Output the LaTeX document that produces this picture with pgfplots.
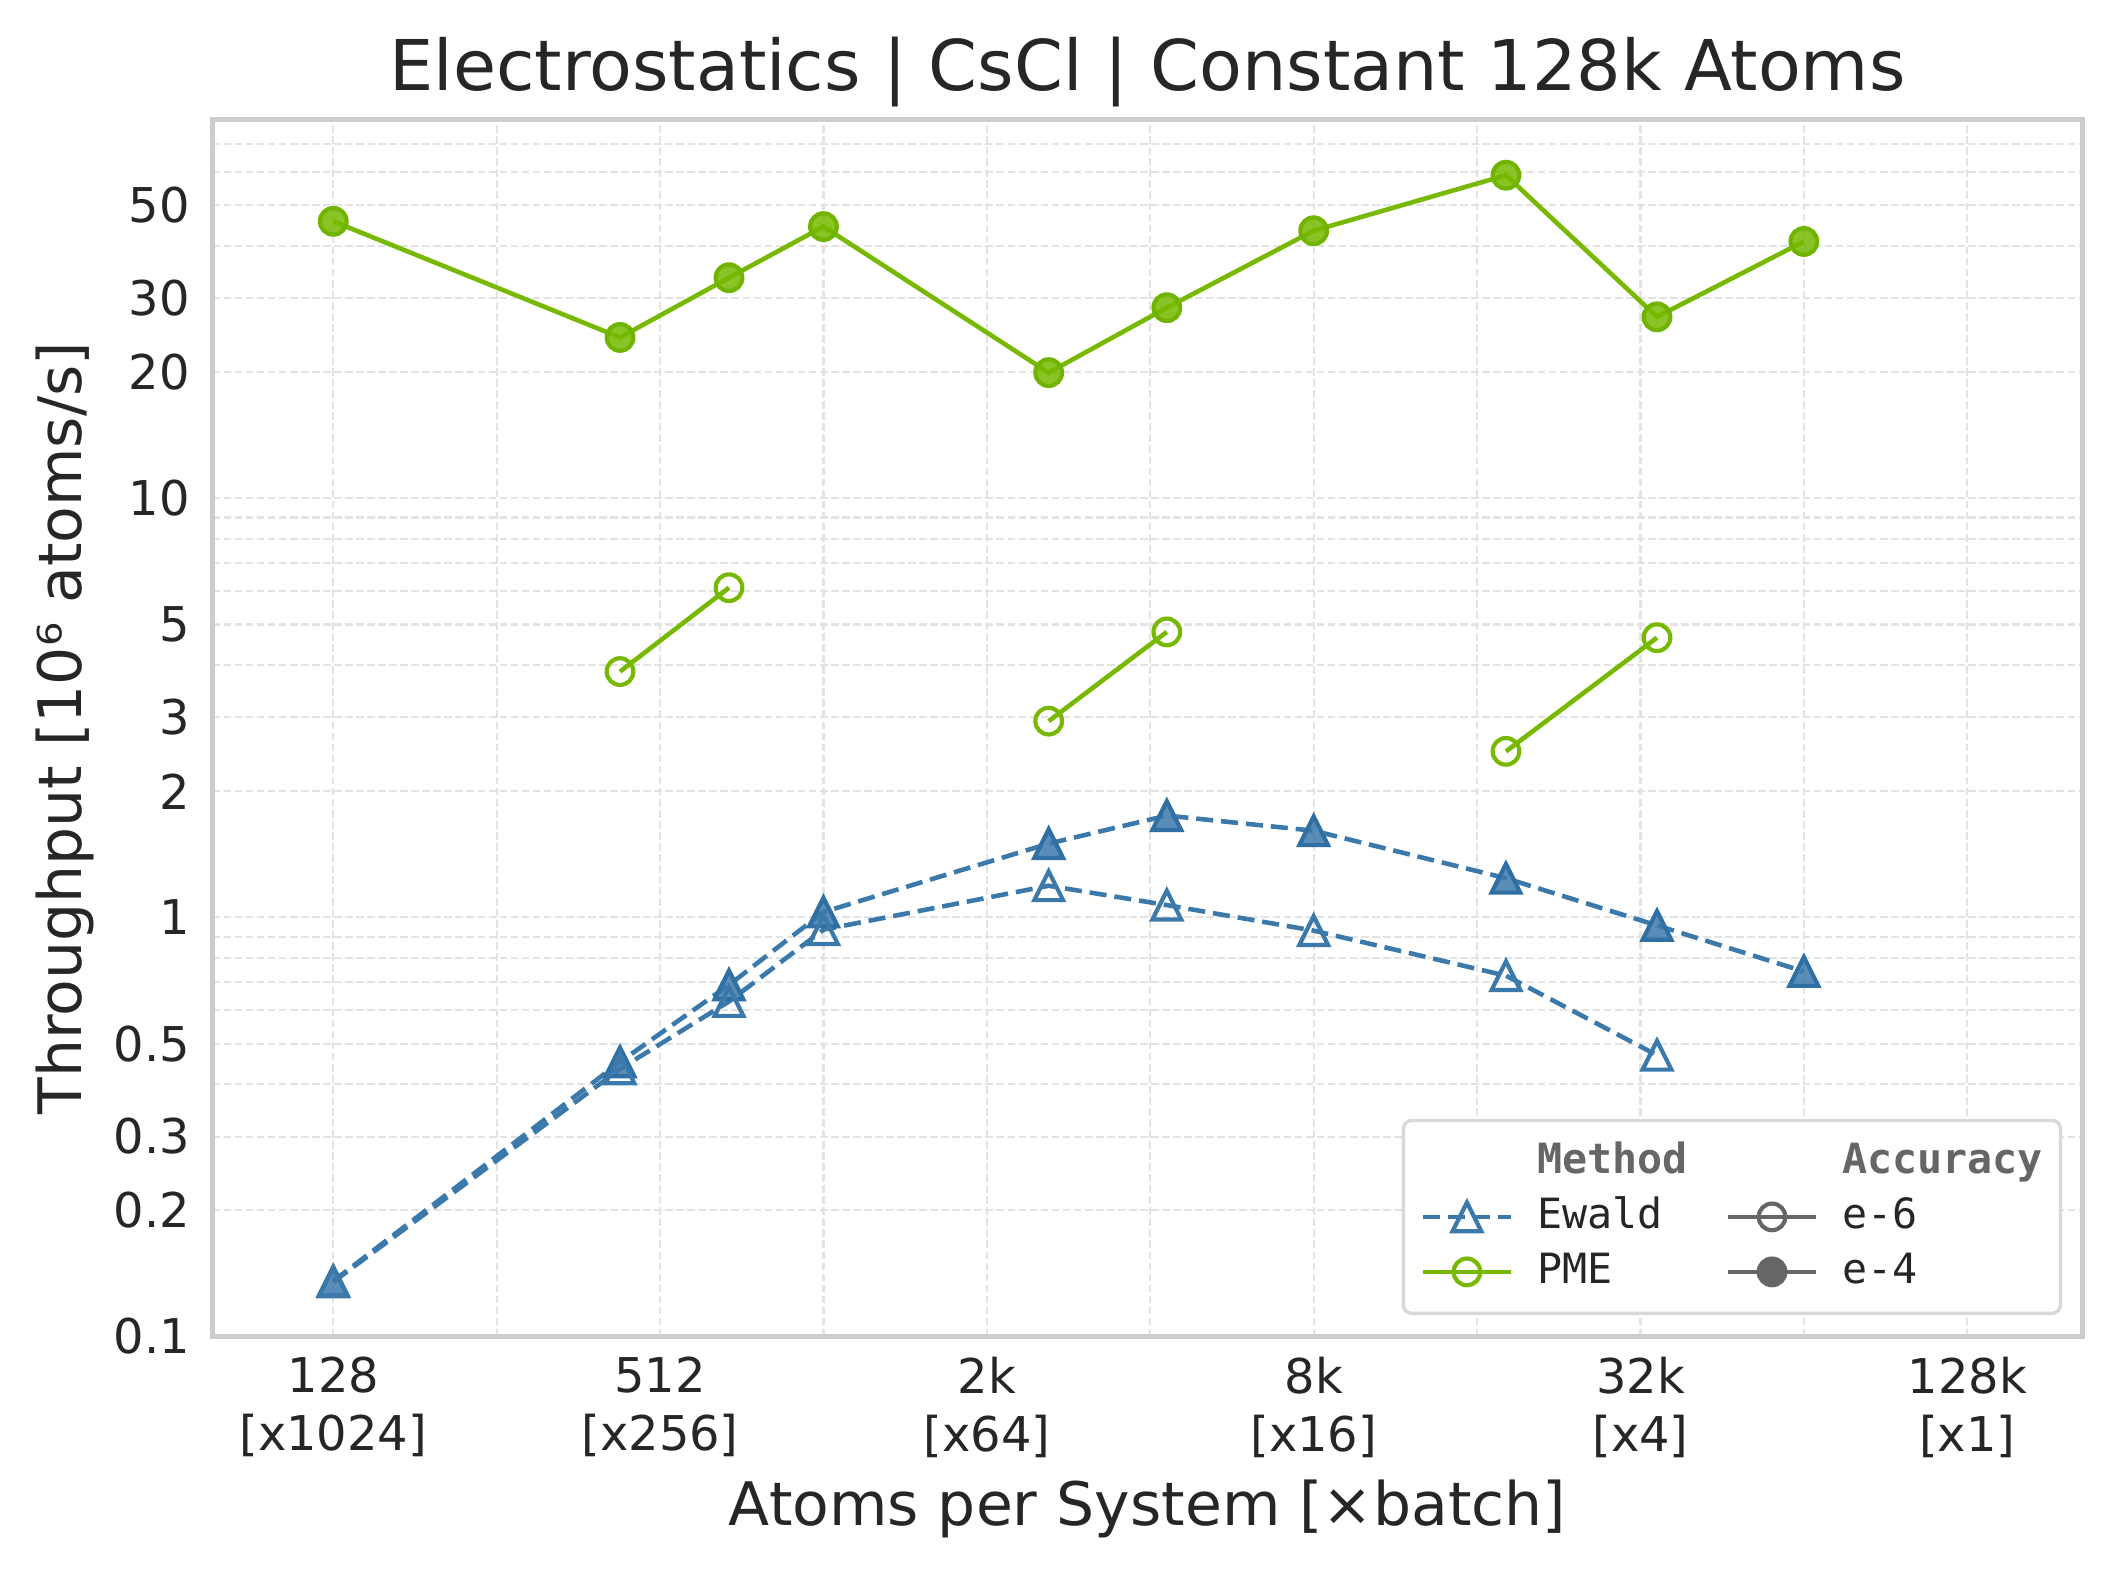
\documentclass[border=0pt]{standalone}
\usepackage{fontspec}
\setmainfont{DejaVu Sans}
\setmonofont{DejaVu Sans Mono}
\usepackage{pgfplots}
\pgfplotsset{compat=1.18}
\definecolor{txt}{HTML}{262626}
\definecolor{framec}{HTML}{CCCCCC}
\definecolor{gridc}{HTML}{E3E3E3}
\definecolor{ewald}{RGB}{60,121,171}
\definecolor{ewaldE}{RGB}{48,111,163}
\definecolor{pme}{RGB}{118,185,0}
\definecolor{pmeE}{RGB}{112,180,0}
\definecolor{legg}{HTML}{666666}
\definecolor{legbox}{HTML}{D9D9D9}

\pgfdeclareplotmark{mtri}{%
  \pgfpathmoveto{\pgfqpoint{0pt}{\pgfplotmarksize}}%
  \pgfpathlineto{\pgfqpoint{-\pgfplotmarksize}{-\pgfplotmarksize}}%
  \pgfpathlineto{\pgfqpoint{\pgfplotmarksize}{-\pgfplotmarksize}}%
  \pgfpathclose
  \pgfusepathqstroke}
\pgfdeclareplotmark{mtri*}{%
  \pgfpathmoveto{\pgfqpoint{0pt}{\pgfplotmarksize}}%
  \pgfpathlineto{\pgfqpoint{-\pgfplotmarksize}{-\pgfplotmarksize}}%
  \pgfpathlineto{\pgfqpoint{\pgfplotmarksize}{-\pgfplotmarksize}}%
  \pgfpathclose
  \pgfusepathqfillstroke}

\begin{document}
\begin{tikzpicture}
\path[use as bounding box] (-51pt,-56.52pt) rectangle (457.32pt,320.76pt);
\begin{axis}[
  at={(0pt,0pt)}, anchor=south west,
  scale only axis, width=448.8pt, height=292pt,
  xmode=log, ymode=log,
  xmin=76.7, xmax=213700, ymin=0.1, ymax=80,
  xtick={128,512,2048,8192,32768,131072},
  xticklabels={{128\\{}[x1024]},{512\\{}[x256]},{2k\\{}[x64]},{8k\\{}[x16]},{32k\\{}[x4]},{128k\\{}[x1]}},
  minor xtick={256,1024,4096,16384,65536},
  ytick={0.1,0.2,0.3,0.5,1,2,3,5,10,20,30,50},
  yticklabels={0.1,0.2,0.3,0.5,1,2,3,5,10,20,30,50},
  minor ytick={0.4,0.6,0.7,0.8,0.9,4,6,7,8,9,40,60,70},
  grid=both,
  major grid style={draw=gridc, line width=0.5pt, dash pattern=on 1.85pt off 0.8pt},
  minor grid style={draw=gridc, line width=0.5pt, dash pattern=on 1.85pt off 0.8pt},
  major tick length=0pt, minor tick length=0pt,
  axis line style={draw=framec, line width=1.25pt},
  tick label style={font=\fontsize{11.5}{14}\selectfont, text=txt},
  xticklabel style={align=center, anchor=north, inner sep=0pt, yshift=-4.7pt},
  yticklabel style={anchor=east, inner sep=0pt, xshift=-5.23pt},
  title={Electrostatics | CsCl | Constant 128k Atoms},
  every axis title/.style={at={(axis description cs:0.5,1)}, anchor=base, yshift=7.15pt, font=\fontsize{16.8}{20}\selectfont, text=txt},
  xlabel={Atoms per System [×batch]},
  ylabel={Throughput [10⁶ atoms/s]},
  every axis x label/.style={at={(axis description cs:0.5,0)}, anchor=base, yshift=-45.24pt, font=\fontsize{14.4}{17}\selectfont, text=txt},
  every axis y label/.style={at={(axis description cs:0,0.5)}, xshift=-31.4pt, rotate=90, anchor=base, font=\fontsize{14.4}{17}\selectfont, text=txt},
  legend columns=2,
  legend cell align=left,
  legend style={at={(axis description cs:1,0)}, anchor=south east, xshift=-4.9pt, yshift=5.16pt,
    draw=legbox, line width=0.8pt, rounded corners=2pt, fill=white,
    inner xsep=4.2pt, inner ysep=5.1pt,
    font=\ttfamily\fontsize{10}{12}\selectfont, text=txt,
    row sep=3.5pt,
    nodes={inner sep=0pt, text height=7.6pt, text depth=2.1pt},
    /tikz/every odd column/.append style={column sep=5.8pt},
    /tikz/every even column/.append style={column sep=9.2pt}},
  legend image code/.code={\draw[sharp corners, mark repeat=2, mark phase=2, #1] plot coordinates {(0pt,0pt) (10.5pt,0pt) (21pt,0pt)};},
]
% Ewald e-4 (filled)
\addplot[forget plot, ewald, line width=1.1pt, dash pattern=on 4.1pt off 1.9pt,
  mark=mtri*, mark size=3.45pt, mark options={solid, line width=1pt, draw=ewaldE, fill=ewald, fill opacity=0.85}]
  coordinates {(128,0.1356) (432,0.452) (686,0.69) (1024,1.03) (2662,1.50) (4394,1.75) (8192,1.61) (18522,1.24) (35152,0.957) (65536,0.743)};
% Ewald e-6 (open)
\addplot[forget plot, ewald, line width=1.1pt, dash pattern=on 4.1pt off 1.9pt,
  mark=mtri, mark size=3.45pt, mark options={solid, line width=1pt, draw=ewald}]
  coordinates {(128,0.135) (432,0.435) (686,0.63) (1024,0.935) (2662,1.19) (4394,1.07) (8192,0.93) (18522,0.726) (35152,0.469)};
% PME e-4 (filled)
\addplot[forget plot, pme, line width=1.1pt,
  mark=*, mark size=3.2pt, mark options={solid, line width=1pt, draw=pmeE, fill=pme, fill opacity=0.85}]
  coordinates {(128,45.8) (432,24.2) (686,33.6) (1024,44.5) (2662,19.95) (4394,28.5) (8192,43.5) (18522,59) (35152,27.1) (65536,41.0)};
% PME e-6 (open), separate segments
\addplot[forget plot, pme, line width=1.1pt, mark=o, mark size=3.2pt, mark options={solid, line width=1pt}]
  coordinates {(432,3.86) (686,6.12)};
\addplot[forget plot, pme, line width=1.1pt, mark=o, mark size=3.2pt, mark options={solid, line width=1pt}]
  coordinates {(2662,2.94) (4394,4.8)};
\addplot[forget plot, pme, line width=1.1pt, mark=o, mark size=3.2pt, mark options={solid, line width=1pt}]
  coordinates {(18522,2.49) (35152,4.65)};
% legend
\addlegendimage{white, mark=none}
\addlegendentry{\textcolor{legg}{\textbf{Method}}}
\addlegendimage{white, mark=none}
\addlegendentry{\textcolor{legg}{\textbf{Accuracy}}}
\addlegendimage{ewald, line width=1.1pt, dash pattern=on 4.1pt off 1.9pt, mark=mtri, mark size=3.45pt, mark options={solid, line width=1pt}}
\addlegendentry{Ewald}
\addlegendimage{legg, line width=1.1pt, mark=o, mark size=3.2pt, mark options={solid, line width=1pt}}
\addlegendentry{e-6}
\addlegendimage{pme, line width=1.1pt, mark=o, mark size=3.2pt, mark options={solid, line width=1pt}}
\addlegendentry{PME}
\addlegendimage{legg, line width=1.1pt, mark=*, mark size=3.2pt, mark options={solid, line width=1pt, fill=legg}}
\addlegendentry{e-4}
\end{axis}
\end{tikzpicture}
\end{document}
